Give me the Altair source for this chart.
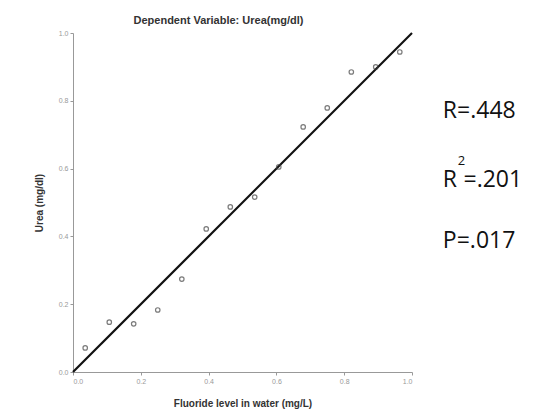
import altair as alt
import pandas as pd

# Observed points (Normal P-P style scatter)
x_vals = [0.036, 0.107, 0.179, 0.250, 0.321, 0.393, 0.464, 0.536, 0.607, 0.679, 0.750, 0.821, 0.893, 0.964]
y_vals = [0.071, 0.147, 0.142, 0.183, 0.274, 0.422, 0.487, 0.516, 0.605, 0.723, 0.779, 0.885, 0.900, 0.944]

# Reference line endpoints
line_x = [0.0, 1.0]
line_y = [0.0, 1.0]

# Annotation texts (positions in data units)
ann_text = ["R=.448", "R", "=.201", "P=.017"]
ann_x = [1.091, 1.091, 1.152, 1.091]
ann_y = [0.749, 0.546, 0.546, 0.366]
sup_text = ["2"]
sup_x = [1.135]
sup_y = [0.612]

tick_vals = [0.0, 0.2, 0.4, 0.6, 0.8, 1.0]

pts = pd.DataFrame({"x": x_vals, "y": y_vals})
ln = pd.DataFrame({"x": line_x, "y": line_y})
ann = pd.DataFrame({"t": ann_text, "x": ann_x, "y": ann_y})
sup = pd.DataFrame({"t": sup_text, "x": sup_x, "y": sup_y})

xs = alt.Scale(domain=[0, 1], nice=False)
ys = alt.Scale(domain=[0, 1], nice=False)

x_enc = alt.X("x:Q", scale=xs, title="Fluoride level in water (mg/L)",
              axis=alt.Axis(values=tick_vals, format=".1f"))
y_enc = alt.Y("y:Q", scale=ys, title="Urea (mg/dl)",
              axis=alt.Axis(values=tick_vals, format=".1f"))

line = alt.Chart(ln).mark_line(color="#111111", strokeWidth=2.2).encode(x=x_enc, y=y_enc)
points = alt.Chart(pts).mark_point(filled=False, size=20, color="#444444", strokeWidth=1.2).encode(
    x="x:Q", y="y:Q")
texts = alt.Chart(ann).mark_text(align="left", baseline="alphabetic", font="Open Sans",
                                 fontSize=23, color="#111111").encode(
    x="x:Q", y="y:Q", text="t:N")
sups = alt.Chart(sup).mark_text(align="left", baseline="alphabetic", font="Open Sans",
                                fontSize=13, color="#111111").encode(
    x="x:Q", y="y:Q", text="t:N")

chart = alt.layer(line, points, texts, sups).properties(
    width=339, height=339,
    title=alt.TitleParams("Dependent Variable: Urea(mg/dl)", font="Liberation Sans",
                          fontSize=11, fontWeight="bold", color="#333333",
                          anchor="middle", dx=-24, dy=17, baseline="bottom", offset=9),
    autosize=alt.AutoSizeParams(type="none"),
    padding={"left": 73, "top": 33, "right": 138, "bottom": 45},
).configure_view(stroke=None).configure_axis(
    grid=False, domainColor="#999999", tickColor="#999999", tickSize=3,
    labelFontSize=7, labelColor="#999999", labelFont="Liberation Sans", labelPadding=2,
    titleFont="Liberation Sans", titleFontSize=10, titleFontWeight="bold", titleColor="#333333",
).configure_axisX(titlePadding=14).configure_axisY(titlePadding=14)

chart.save("out.html", embed_options={"renderer": "svg", "actions": False})
